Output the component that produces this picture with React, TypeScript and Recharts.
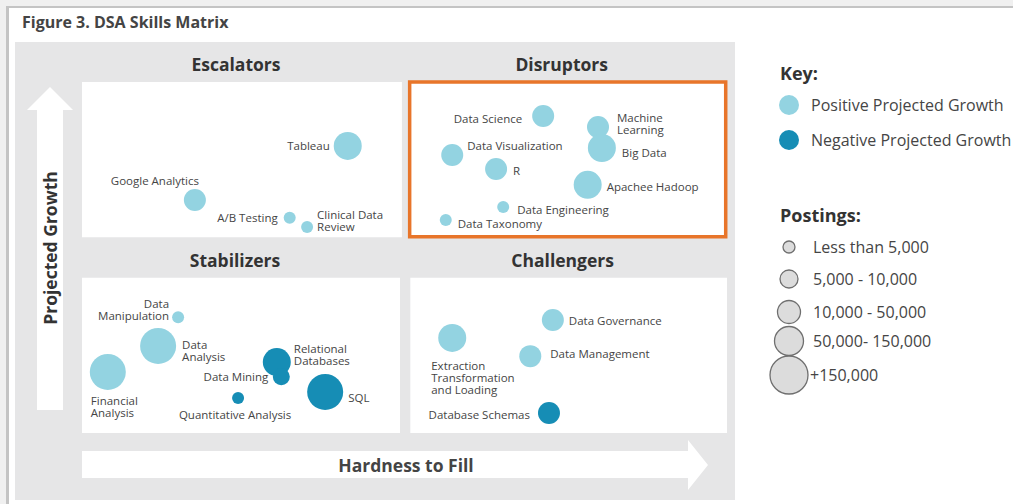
import React from 'react';
import { ScatterChart, Scatter, XAxis, YAxis, ReferenceArea } from 'recharts';

type Skill = {
  name: string;
  hardness: number; // hardness to fill, 0-100 across the matrix
  growth: number; // projected growth, 0-100 across the matrix
  band: number; // index into postingBands
  trend: 'positive' | 'negative';
};

// skills per quadrant
const escalators: Skill[] = [
  { name: 'Tableau', hardness: 41.2, growth: 81.8, band: 3, trend: 'positive' },
  { name: 'Google Analytics', hardness: 17.5, growth: 66.4, band: 2, trend: 'positive' },
  { name: 'A/B Testing', hardness: 32.2, growth: 61.3, band: 0, trend: 'positive' },
  { name: 'Clinical Data Review', hardness: 34.9, growth: 58.7, band: 0, trend: 'positive' },
];

const disruptors: Skill[] = [
  { name: 'Data Science', hardness: 71.5, growth: 90.3, band: 2, trend: 'positive' },
  { name: 'Machine Learning', hardness: 80.0, growth: 87.2, band: 2, trend: 'positive' },
  { name: 'Big Data', hardness: 80.6, growth: 81.2, band: 3, trend: 'positive' },
  { name: 'Data Visualization', hardness: 57.4, growth: 79.2, band: 2, trend: 'positive' },
  { name: 'R', hardness: 64.2, growth: 75.2, band: 2, trend: 'positive' },
  { name: 'Apachee Hadoop', hardness: 78.4, growth: 70.7, band: 3, trend: 'positive' },
  { name: 'Data Engineering', hardness: 65.3, growth: 64.4, band: 0, trend: 'positive' },
  { name: 'Data Taxonomy', hardness: 56.4, growth: 60.7, band: 0, trend: 'positive' },
];

const stabilizers: Skill[] = [
  { name: 'Data Manipulation', hardness: 14.9, growth: 33.0, band: 0, trend: 'positive' },
  { name: 'Data Analysis', hardness: 11.8, growth: 24.8, band: 4, trend: 'positive' },
  { name: 'Financial Analysis', hardness: 4.0, growth: 17.4, band: 4, trend: 'positive' },
  { name: 'Relational Databases', hardness: 30.2, growth: 20.2, band: 3, trend: 'negative' },
  { name: 'Data Mining', hardness: 30.9, growth: 16.0, band: 1, trend: 'negative' },
  { name: 'SQL', hardness: 37.7, growth: 11.7, band: 4, trend: 'negative' },
  { name: 'Quantitative Analysis', hardness: 24.2, growth: 10.0, band: 0, trend: 'negative' },
];

const challengers: Skill[] = [
  { name: 'Data Governance', hardness: 73.0, growth: 32.2, band: 2, trend: 'positive' },
  { name: 'Extraction Transformation and Loading', hardness: 57.4, growth: 27.1, band: 3, trend: 'positive' },
  { name: 'Data Management', hardness: 69.5, growth: 21.9, band: 2, trend: 'positive' },
  { name: 'Database Schemas', hardness: 72.4, growth: 5.7, band: 2, trend: 'negative' },
];

const postingBands = ['Less than 5,000', '5,000 - 10,000', '10,000 - 50,000', '50,000- 150,000', '+150,000'];
const trendLabels = ['Positive Projected Growth', 'Negative Projected Growth'];

// matrix layout
const quadrants = [
  { title: 'Escalators', x1: 0, x2: 49.6, y1: 55.8, y2: 100, highlight: false },
  { title: 'Disruptors', x1: 50.8, x2: 99.8, y1: 55.9, y2: 100, highlight: true },
  { title: 'Stabilizers', x1: 0, x2: 49.3, y1: 0, y2: 44.2, highlight: false },
  { title: 'Challengers', x1: 50.9, x2: 100, y1: 0, y2: 44.2, highlight: false },
];

const BAND_RADII = [6, 8.5, 11, 14, 18];
const LIGHT = '#93d3e1';
const DARK = '#168db5';
const ORANGE = '#e8752a';
const TEXT = '#454545';
const FONT = '"Open Sans", "Noto Sans", sans-serif';

type Spot = { dx: number; dy: number; anchor: 'start' | 'middle' | 'end'; lines?: string[] };

const labelSpots: Record<string, Spot> = {
  'Tableau': { dx: -18, dy: -1, anchor: 'end' },
  'Google Analytics': { dx: -40, dy: -20, anchor: 'middle' },
  'A/B Testing': { dx: -12, dy: -1, anchor: 'end' },
  'Clinical Data Review': { dx: 10, dy: -13, anchor: 'start', lines: ['Clinical Data', 'Review'] },
  'Data Science': { dx: -21, dy: 2, anchor: 'end' },
  'Machine Learning': { dx: 19, dy: -10, anchor: 'start', lines: ['Machine', 'Learning'] },
  'Big Data': { dx: 20, dy: 4, anchor: 'start' },
  'Data Visualization': { dx: 15, dy: -10, anchor: 'start' },
  'R': { dx: 17, dy: 1, anchor: 'start' },
  'Apachee Hadoop': { dx: 19, dy: 1, anchor: 'start' },
  'Data Engineering': { dx: 14, dy: 2, anchor: 'start' },
  'Data Taxonomy': { dx: 12, dy: 3, anchor: 'start' },
  'Data Manipulation': { dx: -9, dy: -14, anchor: 'end', lines: ['Data', 'Manipulation'] },
  'Data Analysis': { dx: 24, dy: -2, anchor: 'start', lines: ['Data', 'Analysis'] },
  'Financial Analysis': { dx: -17, dy: 28, anchor: 'start', lines: ['Financial', 'Analysis'] },
  'Relational Databases': { dx: 17, dy: -14, anchor: 'start', lines: ['Relational', 'Databases'] },
  'Data Mining': { dx: -13, dy: -1, anchor: 'end' },
  'SQL': { dx: 23, dy: 5, anchor: 'start' },
  'Quantitative Analysis': { dx: -3, dy: 16, anchor: 'middle' },
  'Data Governance': { dx: 16, dy: 0, anchor: 'start' },
  'Extraction Transformation and Loading': {
    dx: -21, dy: 27, anchor: 'start', lines: ['Extraction', 'Transformation', 'and Loading'],
  },
  'Data Management': { dx: 20, dy: -3, anchor: 'start' },
  'Database Schemas': { dx: -19, dy: 1, anchor: 'end' },
};

const Bubble = (props: any) => {
  const { cx, cy, payload } = props;
  const spot = labelSpots[payload.name] ?? { dx: 14, dy: 0, anchor: 'start' };
  const lines = spot.lines ?? [payload.name];
  return (
    <g>
      <circle cx={cx} cy={cy} r={BAND_RADII[payload.band]} fill={payload.trend === 'positive' ? LIGHT : DARK} />
      <text
        x={cx + spot.dx}
        y={cy + spot.dy}
        textAnchor={spot.anchor}
        dominantBaseline="central"
        fontSize={11.5}
        fontFamily={FONT}
        fill={TEXT}
      >
        {lines.map((line, i) => (
          <tspan key={line} x={cx + spot.dx} dy={i === 0 ? 0 : 12.3}>
            {line}
          </tspan>
        ))}
      </text>
    </g>
  );
};

const QuadrantTitle = (props: any) => {
  const { viewBox, value } = props;
  if (!viewBox) return null;
  return (
    <text
      x={viewBox.x + viewBox.width / 2 - 6}
      y={viewBox.y - 18}
      textAnchor="middle"
      dominantBaseline="central"
      fontSize={17.5}
      fontWeight={700}
      fontFamily={FONT}
      fill="#333"
    >
      {value}
    </text>
  );
};

const Backdrop = () => (
  <svg width={1013} height={504} style={{ position: 'absolute', left: 0, top: 0 }}>
    <rect x={0} y={0} width={1013} height={504} fill="#f0f0f0" />
    <rect x={6} y={6} width={1013} height={504} fill="#c4c4c4" />
    <rect x={9} y={8} width={1013} height={504} fill="#ffffff" />
    <text x={22} y={28} fontSize={16} fontWeight={700} fontFamily={FONT} fill="#444">
      Figure 3. DSA Skills Matrix
    </text>
    <rect x={15} y={42} width={720} height={458} fill="#e6e6e7" />

    {/* vertical arrow */}
    <polygon points="37,410 37,110 27,110 50,87 73,110 63,110 63,410" fill="#ffffff" />
    <text
      x={50}
      y={248}
      transform="rotate(-90 50 248)"
      textAnchor="middle"
      dominantBaseline="central"
      fontSize={17.5}
      fontWeight={700}
      fontFamily={FONT}
      fill="#333"
    >
      Projected Growth
    </text>

    {/* horizontal arrow */}
    <polygon points="82,451 688,451 688,440 708,465 688,490 688,478 82,478" fill="#ffffff" />
    <text
      x={406}
      y={465}
      textAnchor="middle"
      dominantBaseline="central"
      fontSize={17.5}
      fontWeight={700}
      fontFamily={FONT}
      fill="#444"
    >
      Hardness to Fill
    </text>

    {/* key */}
    <text x={780} y={73} dominantBaseline="central" fontSize={18} fontWeight={700} fontFamily={FONT} fill="#333">
      Key:
    </text>
    {trendLabels.map((label, i) => (
      <g key={label}>
        <circle cx={789} cy={105 + i * 35} r={10} fill={i === 0 ? LIGHT : DARK} />
        <text x={811} y={105 + i * 35} dominantBaseline="central" fontSize={16} fontFamily={FONT} fill={TEXT}>
          {label}
        </text>
      </g>
    ))}

    <text x={780} y={215} dominantBaseline="central" fontSize={18} fontWeight={700} fontFamily={FONT} fill="#333">
      Postings:
    </text>
    {postingBands.map((label, i) => {
      const ys = [247, 279, 312, 341, 375];
      const rs = [6, 9, 11.5, 14.5, 19];
      return (
        <g key={label}>
          <circle cx={789} cy={ys[i]} r={rs[i]} fill="#dcdcdc" stroke="#6f6f6f" strokeWidth={1.3} />
          <text
            x={i === 4 ? 810 : 813}
            y={ys[i]}
            dominantBaseline="central"
            fontSize={16}
            fontFamily={FONT}
            fill={TEXT}
          >
            {label}
          </text>
        </g>
      );
    })}
  </svg>
);

export default function App() {
  const groups = [escalators, disruptors, stabilizers, challengers];
  return (
    <div style={{ position: 'absolute', left: 0, top: 0, width: 1013, height: 504, fontFamily: FONT }}>
      <Backdrop />
      <div style={{ position: 'absolute', left: 0, top: 0 }}>
        <ScatterChart width={1013} height={504} margin={{ top: 82, right: 286, bottom: 71, left: 82 }}>
          <XAxis type="number" dataKey="hardness" domain={[0, 100]} hide />
          <YAxis type="number" dataKey="growth" domain={[0, 100]} hide />
          {quadrants.map((q) => (
            <ReferenceArea
              key={q.title}
              x1={q.x1}
              x2={q.x2}
              y1={q.y1}
              y2={q.y2}
              fill="#ffffff"
              fillOpacity={1}
              stroke={q.highlight ? ORANGE : 'none'}
              strokeWidth={q.highlight ? 3.5 : 0}
              ifOverflow="visible"
              label={<QuadrantTitle value={q.title} />}
            />
          ))}
          {groups.map((g, i) => (
            <Scatter key={i} data={g} shape={<Bubble />} isAnimationActive={false} />
          ))}
        </ScatterChart>
      </div>
    </div>
  );
}
